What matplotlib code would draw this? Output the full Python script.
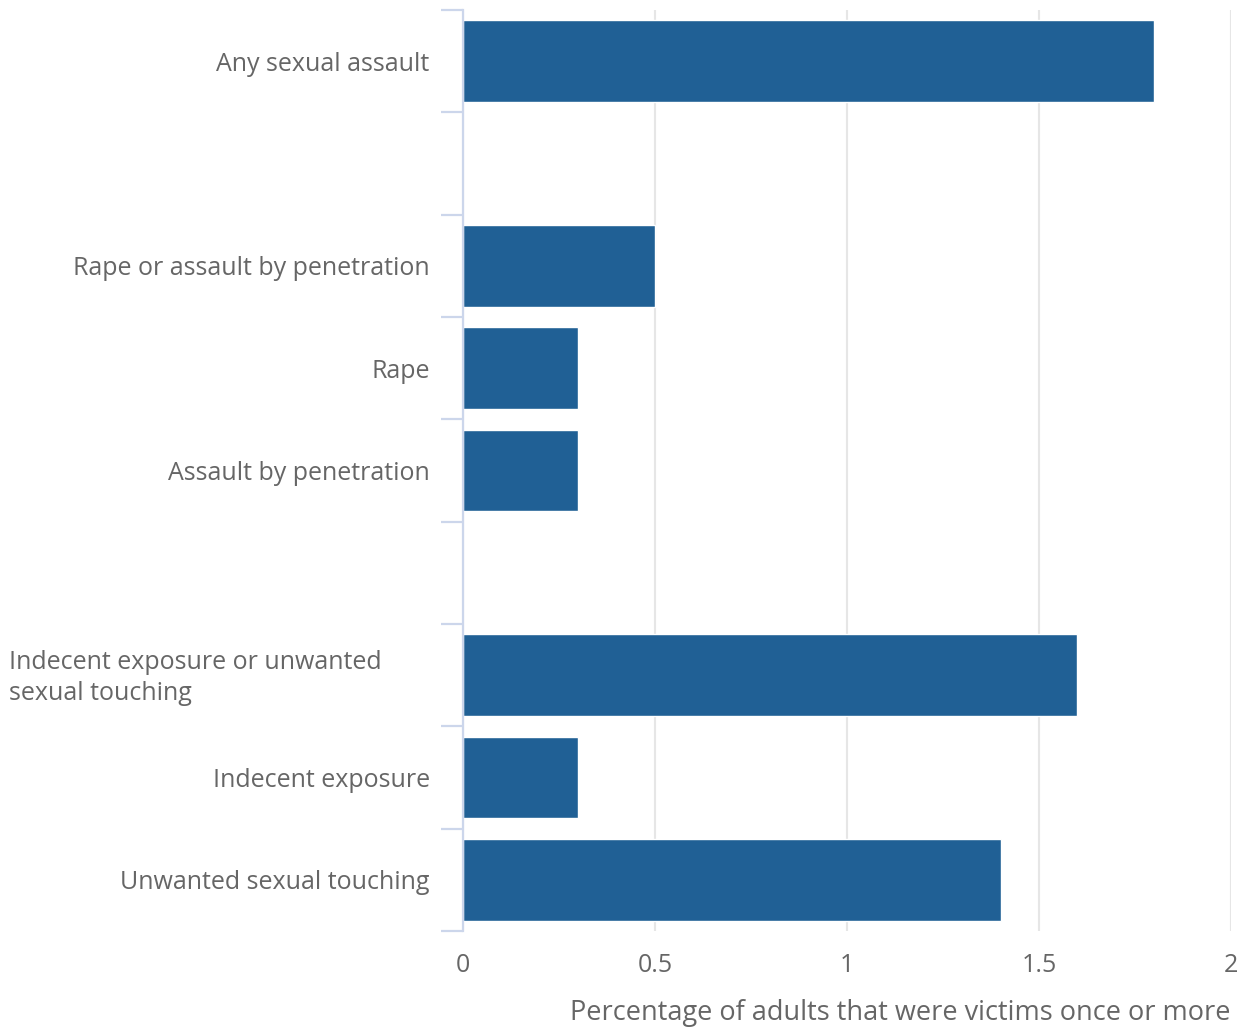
import numpy as np
import matplotlib
matplotlib.use("Agg")
import matplotlib.pyplot as plt
from matplotlib.transforms import blended_transform_factory

# categories top to bottom; empty strings are the gap rows
categories = [
    "Any sexual assault",
    "",
    "Rape or assault by penetration",
    "Rape",
    "Assault by penetration",
    "",
    "Indecent exposure or unwanted\nsexual touching",
    "Indecent exposure",
    "Unwanted sexual touching",
]
values = [1.8, np.nan, 0.5, 0.3, 0.3, np.nan, 1.6, 0.3, 1.4]
x_ticks = [0, 0.5, 1, 1.5, 2]
x_title = "Percentage of adults that were victims once or more"

BAR = "#206095"
TEXT = "#666666"
AXIS = "#ccd6eb"
GRID = "#e6e6e6"

plt.rcParams["font.family"] = ["Open Sans", "DejaVu Sans"]

fig = plt.figure(figsize=(12.45, 10.30), dpi=100)
ax = fig.add_axes([463 / 1245, 1 - 931 / 1030, (1231 - 463) / 1245, (931 - 10) / 1030])

ypos = np.arange(len(categories))
vals = np.array(values, dtype=float)
mask = ~np.isnan(vals)
ax.barh(ypos[mask], vals[mask], height=0.8, color=BAR, edgecolor="#ffffff",
        linewidth=1.0, zorder=3)

ax.set_xlim(0, 2)
ax.set_ylim(len(categories) - 0.5, -0.5)

ax.set_xticks(x_ticks)
ax.set_xticklabels([f"{t:g}" for t in x_ticks])
ax.tick_params(axis="x", length=0, pad=16, labelsize=18, labelcolor=TEXT)
ax.grid(axis="x", color=GRID, linewidth=1.5, zorder=0)

# category labels; wrapped one is left aligned at the figure edge
labels = [c if "\n" not in c else "" for c in categories]
ax.set_yticks(ypos)
ax.set_yticklabels(labels)
ax.tick_params(axis="y", which="major", length=0, pad=24, labelsize=18, labelcolor=TEXT)
ax.set_yticks(np.arange(len(categories) + 1) - 0.5, minor=True)
ax.tick_params(axis="y", which="minor", length=16, width=1.6, color=AXIS)
trans = blended_transform_factory(fig.transFigure, ax.transData)
for i, c in enumerate(categories):
    if "\n" in c:
        ax.text(9 / 1245, i + 0.03, c, transform=trans, ha="left", va="center",
                fontsize=18, color=TEXT, linespacing=1.3)

for s in ["top", "right", "bottom"]:
    ax.spines[s].set_visible(False)
ax.spines["left"].set_color(AXIS)
ax.spines["left"].set_linewidth(1.6)
ax.spines["left"].set_zorder(4)

ax.set_xlabel(x_title, loc="right", fontsize=19.5, color=TEXT, labelpad=15)

fig.savefig("out.png", dpi=100, facecolor="white")
